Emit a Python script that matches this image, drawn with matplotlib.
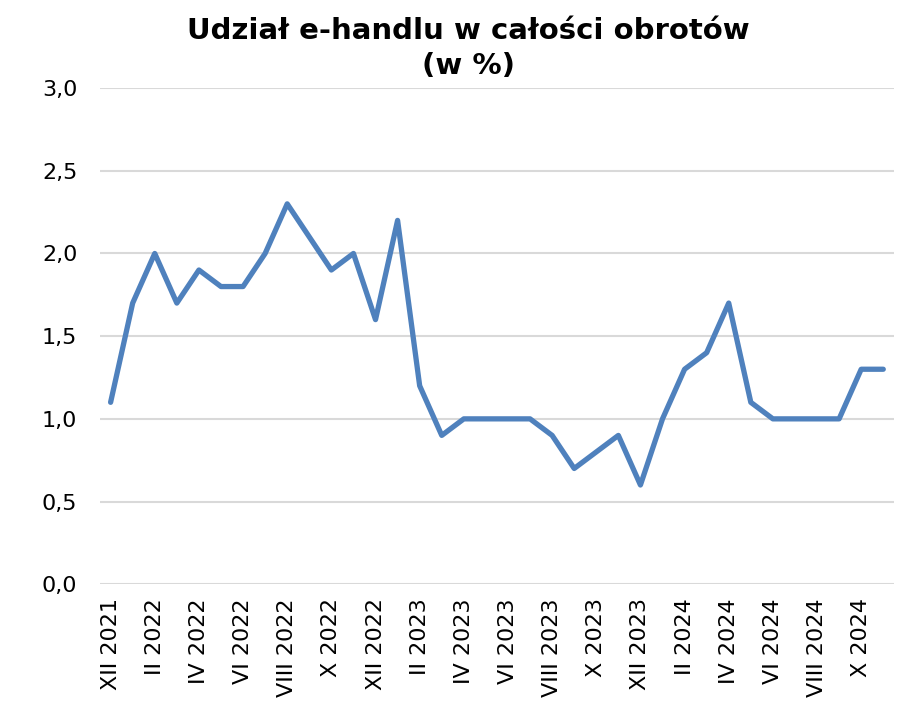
import matplotlib
matplotlib.use("Agg")
import matplotlib.pyplot as plt

months = ["XII 2021", "I 2022", "II 2022", "III 2022", "IV 2022", "V 2022", "VI 2022",
          "VII 2022", "VIII 2022", "IX 2022", "X 2022", "XI 2022", "XII 2022",
          "I 2023", "II 2023", "III 2023", "IV 2023", "V 2023", "VI 2023", "VII 2023",
          "VIII 2023", "IX 2023", "X 2023", "XI 2023", "XII 2023",
          "I 2024", "II 2024", "III 2024", "IV 2024", "V 2024", "VI 2024", "VII 2024",
          "VIII 2024", "IX 2024", "X 2024", "XI 2024"]
share = [1.1, 1.7, 2.0, 1.7, 1.9, 1.8, 1.8, 2.0, 2.3, 2.1, 1.9, 2.0, 1.6,
         2.2, 1.2, 0.9, 1.0, 1.0, 1.0, 1.0, 0.9, 0.7, 0.8, 0.9, 0.6,
         1.0, 1.3, 1.4, 1.7, 1.1, 1.0, 1.0, 1.0, 1.0, 1.3, 1.3]
yticks = [0.0, 0.5, 1.0, 1.5, 2.0, 2.5, 3.0]
title = "Udział e-handlu w całości obrotów\n(w %)"

plt.rcParams['font.family'] = ['DejaVu Sans']
fig = plt.figure(figsize=(8.97, 7.16), dpi=100)
ax = fig.add_axes([0.111, 0.184, 0.886, 0.693])

x = list(range(len(months)))
ax.plot(x, share, color="#4F81BD", linewidth=3.8, solid_joinstyle="round", solid_capstyle="round", zorder=3)

ax.set_xlim(-0.5, len(months) - 0.5)
ax.set_ylim(0, 3.0)
ax.set_yticks(yticks)
ax.set_yticklabels([f"{v:.1f}".replace(".", ",") for v in yticks], fontsize=16)
ax.set_xticks(x[::2])
ax.set_xticklabels(months[::2], rotation=90, fontsize=16, va="top")
ax.tick_params(axis="both", length=0)
ax.tick_params(axis="y", pad=16)
ax.tick_params(axis="x", pad=10)
ax.grid(axis="y", color="#D9D9D9", linewidth=1.5, zorder=0)
for s in ax.spines.values():
    s.set_visible(False)

fig.text(0.522, 0.976, title, fontsize=21, fontweight="bold", ha="center", va="top",
         multialignment="center", linespacing=1.3)
fig.savefig("out.png", dpi=100)
